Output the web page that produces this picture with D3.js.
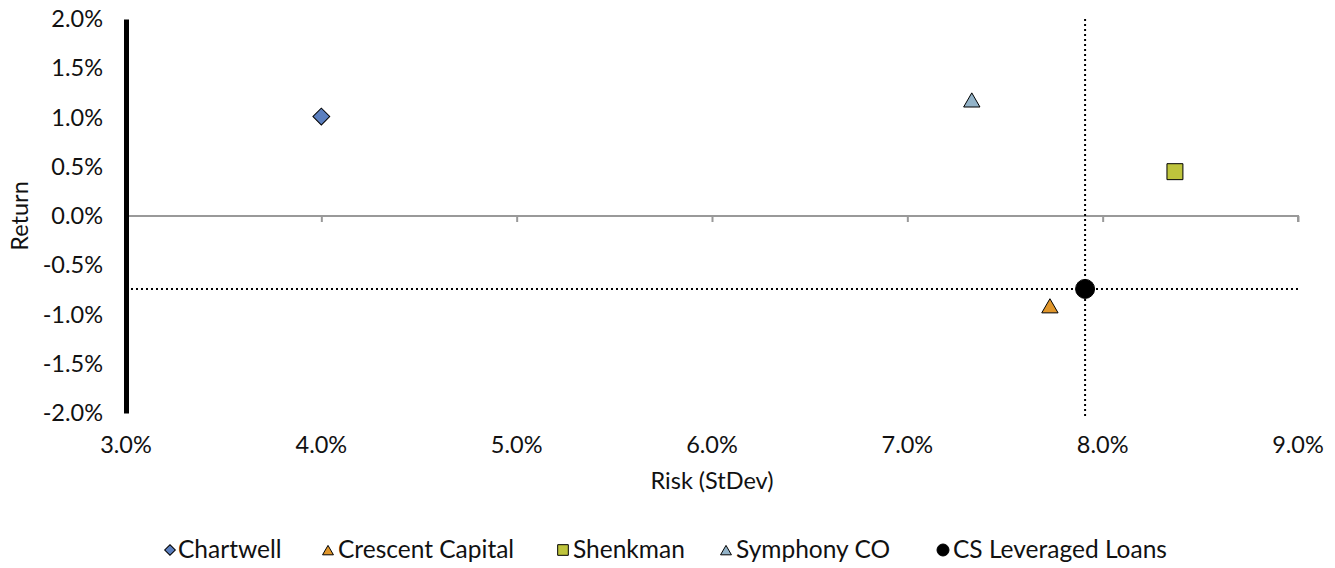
<!DOCTYPE html>
<html><head><meta charset="utf-8">
<script src="https://cdn.jsdelivr.net/npm/d3@7"></script>
<style>
body{margin:0;background:#fff;}
text{font-family:Lato, sans-serif;fill:#111;}
</style></head>
<body><svg id="c" width="1335" height="568"></svg>
<script>
const names = ["Chartwell","Crescent Capital","Shenkman","Symphony CO","CS Leveraged Loans"];
const risk = [4.0, 7.73, 8.37, 7.33, 7.91];
const ret = [1.01, -0.91, 0.45, 1.18, -0.74];
const shapes = ["diamond","triangle","square","triangle","circle"];
const colors = ["#5b7fbf","#e0962b","#bec43c","#93b3c8","#000000"];
const xTicks = [3,4,5,6,7,8,9];
const yTicks = [2,1.5,1,0.5,0,-0.5,-1,-1.5,-2];
const benchIndex = 4;

const svg = d3.select("#c");
const x = d3.scaleLinear().domain([3,9]).range([126,1298]);
const y = d3.scaleLinear().domain([-2,2]).range([413,19]);
const fs = 23.5;
const lfs = 24.5;

// zero line axis (gray) with ticks
const xAxis = d3.axisBottom(x).tickValues(xTicks).tickSize(6).tickFormat("");
const gx = svg.append("g").attr("transform",`translate(0,${y(0)})`).call(xAxis);
gx.select(".domain").attr("stroke","#999").attr("stroke-width",2).attr("d",`M${x(3)},6V0H${x(9)}V6`);
gx.selectAll(".tick line").attr("stroke","#999").attr("stroke-width",2);

// x tick labels at bottom
svg.append("g").selectAll("text").data(xTicks).join("text")
  .attr("x",d=>x(d)).attr("y",453).attr("text-anchor","middle").attr("font-size",fs)
  .text(d=>d.toFixed(1)+"%");

// y axis
const yAxis = d3.axisLeft(y).tickValues(yTicks).tickSize(0).tickPadding(23).tickFormat(d=>d.toFixed(1)+"%");
const gy = svg.append("g").attr("transform",`translate(${x(3)},0)`).call(yAxis);
gy.select(".domain").attr("stroke","#000").attr("stroke-width",5);
gy.selectAll("text").attr("font-size",fs).attr("font-family","Lato, sans-serif").attr("fill","#111");

// benchmark dotted lines
svg.append("line").attr("x1",x(3)).attr("x2",x(9)).attr("y1",y(ret[benchIndex])).attr("y2",y(ret[benchIndex]))
  .attr("stroke","#000").attr("stroke-width",2).attr("stroke-dasharray","2,3");
svg.append("line").attr("x1",x(risk[benchIndex])).attr("x2",x(risk[benchIndex])).attr("y1",19).attr("y2",418)
  .attr("stroke","#000").attr("stroke-width",2).attr("stroke-dasharray","2,3");

// axis titles
svg.append("text").attr("x",x(6)).attr("y",489).attr("text-anchor","middle").attr("font-size",fs).text("Risk (StDev)");
svg.append("text").attr("transform",`translate(28,${y(0)}) rotate(-90)`).attr("text-anchor","middle").attr("font-size",fs).text("Return");

function marker(sel, i, size){
  const shape = shapes[i];
  let path;
  if(shape==="diamond") path = d3.symbol(d3.symbolSquare2, size*size*0.5)();
  else if(shape==="triangle") path = d3.symbol(d3.symbolTriangle2, Math.sqrt(3)/4*size*size)();
  else if(shape==="square") path = d3.symbol(d3.symbolSquare2, size*size)();
  else path = d3.symbol(d3.symbolCircle, Math.PI*size*size/4)();
  const p = sel.append("path").attr("d",path).attr("fill",colors[i]).attr("stroke","#000").attr("stroke-width",1);
  if(shape==="diamond") p.attr("transform","rotate(45)");
  if(shape==="triangle") p.attr("transform",`translate(0,${size*0.12})`);
  return p;
}

// points
names.forEach((n,i)=>{
  const g = svg.append("g").attr("transform",`translate(${x(risk[i])},${y(ret[i])})`);
  marker(g,i,shapes[i]==="square"?18:(shapes[i]==="triangle"?21:19));
});

// legend
const legendX = [170,328,563,726,943];
names.forEach((n,i)=>{
  const g = svg.append("g").attr("transform",`translate(${legendX[i]},550)`);
  marker(g,i,shapes[i]==="circle"?12:(shapes[i]==="triangle"?14:(shapes[i]==="diamond"?12:12)));
  g.append("text").attr("x",i===0?8:10).attr("y",8).attr("font-size",lfs).text(n);
});
</script></body></html>
